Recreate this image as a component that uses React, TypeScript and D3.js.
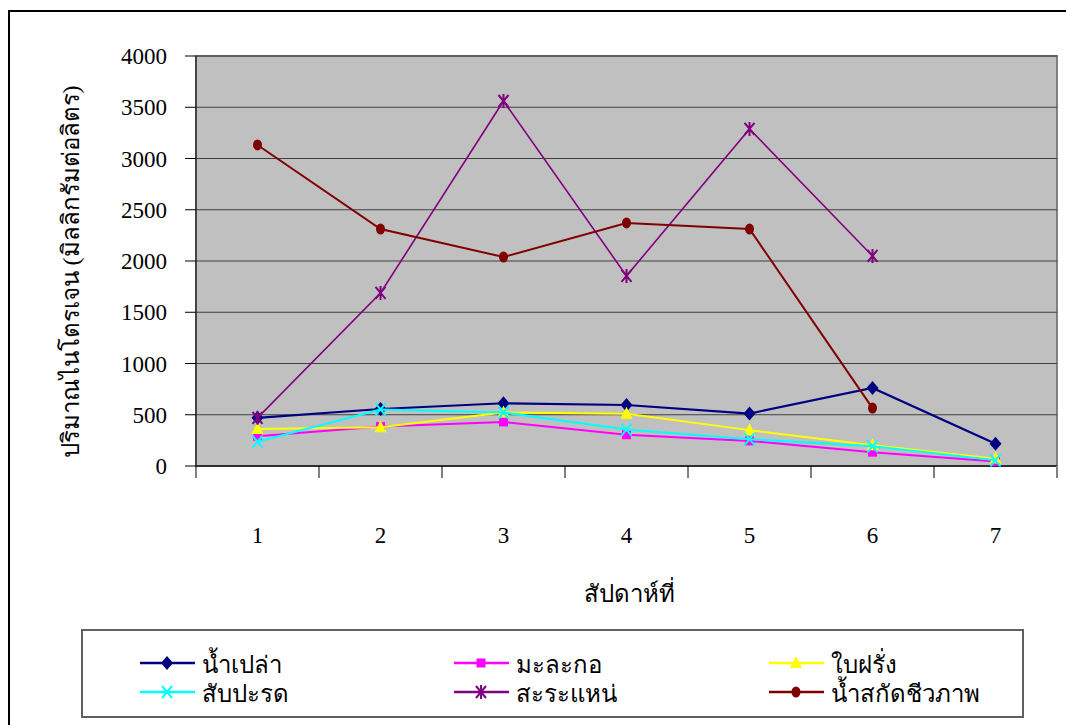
import React from "react";
import * as d3 from "d3";

const weeks = ["1", "2", "3", "4", "5", "6", "7"];
const yTicks = [0, 500, 1000, 1500, 2000, 2500, 3000, 3500, 4000];

const seriesNames = ["น้ำเปล่า", "มะละกอ", "ใบฝรั่ง", "สับปะรด", "สะระแหน่", "น้ำสกัดชีวภาพ"];
const plainWater = [470, 556, 612, 595, 512, 762, 218];
const papaya = [290, 385, 430, 305, 245, 135, 45];
const guavaLeaf = [362, 378, 522, 510, 350, 202, 72];
const pineapple = [237, 552, 522, 355, 262, 192, 55];
const mint = [470, 1688, 3561, 1854, 3288, 2049, null];
const bioExtract = [3132, 2312, 2039, 2371, 2312, 565, null];

const seriesValues: (number | null)[][] = [plainWater, papaya, guavaLeaf, pineapple, mint, bioExtract];
const seriesColors = ["#000080", "#FF00FF", "#FFFF00", "#00FFFF", "#800080", "#800000"];
const seriesMarkers = ["diamond", "square", "triangle", "x", "star", "circle"];
const seriesWidths = [2.2, 2, 2, 2, 1.6, 2];

const yTitle = "ปริมาณไนโตรเจน (มิลลิกรัมต่อลิตร)";
const xTitle = "สัปดาห์ที่";

const PL = 196, PR = 1057, PT = 56, PB = 466;
const FONT = "'Liberation Serif', 'Times New Roman', serif";

function markerPath(type: string, cx: number, cy: number): string {
  switch (type) {
    case "diamond":
      return `M${cx},${cy - 7}L${cx + 6},${cy}L${cx},${cy + 7}L${cx - 6},${cy}Z`;
    case "square":
      return `M${cx - 4.5},${cy - 4.5}h9v9h-9Z`;
    case "triangle":
      return `M${cx},${cy - 7}L${cx + 6},${cy + 5}L${cx - 6},${cy + 5}Z`;
    case "x":
      return `M${cx - 5},${cy - 6}L${cx + 5},${cy + 6}M${cx + 5},${cy - 6}L${cx - 5},${cy + 6}`;
    case "star":
      return `M${cx - 5},${cy - 6}L${cx + 5},${cy + 6}M${cx + 5},${cy - 6}L${cx - 5},${cy + 6}M${cx},${cy - 7}L${cx},${cy + 7}`;
    default:
      return "";
  }
}

function Marker({ type, cx, cy, color }: { type: string; cx: number; cy: number; color: string }) {
  if (type === "circle") return <ellipse cx={cx} cy={cy} rx={4.5} ry={5.5} fill={color} />;
  if (type === "x" || type === "star")
    return <path d={markerPath(type, cx, cy)} stroke={color} strokeWidth={2} fill="none" />;
  return <path d={markerPath(type, cx, cy)} fill={color} />;
}

export default function App() {
  const x = d3.scaleBand<string>().domain(weeks).range([PL, PR]);
  const y = d3.scaleLinear().domain([0, 4000]).range([PB, PT]);
  const cx = (w: string) => (x(w) as number) + x.bandwidth() / 2;

  const line = d3
    .line<number | null>()
    .defined((d) => d !== null)
    .x((_, i) => cx(weeks[i]))
    .y((d) => y(d as number));

  const legendCols = [140, 454, 769];
  const legendRows = [663, 692];
  const boundaries = [...weeks.map((w) => x(w) as number), PR];

  return (
    <svg width={1066} height={725} style={{ position: "absolute", left: 0, top: 0, background: "#fff" }}>
      <rect x={9} y={11} width={1070} height={730} fill="#fff" stroke="#000" strokeWidth={2} />
      <rect x={PL} y={PT} width={PR - PL} height={PB - PT} fill="#C0C0C0" stroke="#808080" strokeWidth={2} />
      {yTicks.slice(1).map((t) => (
        <line key={t} x1={PL} x2={PR} y1={y(t)} y2={y(t)} stroke="#404040" strokeWidth={1.2} />
      ))}
      {/* axes */}
      <line x1={PL} x2={PL} y1={PT} y2={PB} stroke="#303030" strokeWidth={1.5} />
      <line x1={PL} x2={PR} y1={PB} y2={PB} stroke="#303030" strokeWidth={2} />
      {yTicks.map((t) => (
        <g key={t}>
          <line x1={PL - 11} x2={PL} y1={y(t)} y2={y(t)} stroke="#000" strokeWidth={1} />
          <text x={167} y={y(t) + 8} textAnchor="end" fontSize={23} fontFamily={FONT} fill="#000">
            {t}
          </text>
        </g>
      ))}
      {boundaries.map((b, i) => (
        <line key={i} x1={b} x2={b} y1={PB} y2={PB + 12} stroke={i === boundaries.length - 1 ? "#808080" : "#000"} strokeWidth={i === boundaries.length - 1 ? 2 : 1} />
      ))}
      {weeks.map((w) => (
        <text key={w} x={cx(w)} y={543} textAnchor="middle" fontSize={23} fontFamily={FONT} fill="#000">
          {w}
        </text>
      ))}
      <text
        transform={`translate(79,272) rotate(-90)`}
        textAnchor="middle"
        fontSize={24}
        fontFamily={FONT}
        fill="#000"
      >
        {yTitle}
      </text>
      <text x={629} y={602} textAnchor="middle" fontSize={24} fontFamily={FONT} fill="#000">
        {xTitle}
      </text>
      {/* series */}
      {seriesValues.map((vals, si) => (
        <g key={si}>
          <path d={line(vals) || ""} fill="none" stroke={seriesColors[si]} strokeWidth={seriesWidths[si]} />
          {vals.map((v, i) =>
            v === null ? null : (
              <Marker key={i} type={seriesMarkers[si]} cx={cx(weeks[i])} cy={y(v)} color={seriesColors[si]} />
            )
          )}
        </g>
      ))}
      {/* legend */}
      <rect x={82} y={630} width={941} height={87} fill="#fff" stroke="#606060" strokeWidth={2} />
      {seriesNames.map((name, si) => {
        const lx = legendCols[si % 3];
        const ly = legendRows[Math.floor(si / 3)];
        return (
          <g key={name}>
            <line x1={lx} x2={lx + 55} y1={ly} y2={ly} stroke={seriesColors[si]} strokeWidth={2.5} />
            <Marker type={seriesMarkers[si]} cx={lx + 27} cy={ly} color={seriesColors[si]} />
            <text x={lx + 62} y={ly + 10} fontSize={24} fontFamily={FONT} fill="#000">
              {name}
            </text>
          </g>
        );
      })}
    </svg>
  );
}
